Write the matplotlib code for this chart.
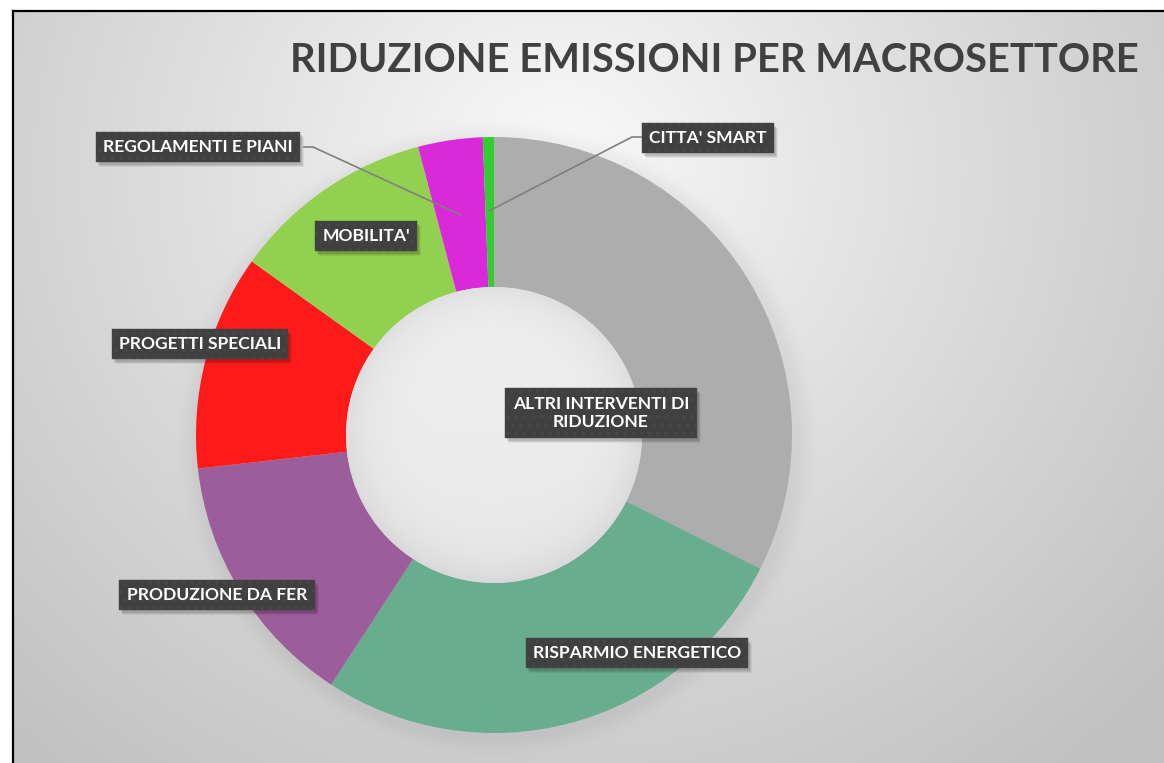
import numpy as np
import matplotlib
matplotlib.use("Agg")
import matplotlib.pyplot as plt
from matplotlib.patches import Rectangle, Circle

# ---- data ----
categories = ["ALTRI INTERVENTI DI\nRIDUZIONE", "RISPARMIO ENERGETICO", "PRODUZIONE DA FER",
              "PROGETTI SPECIALI", "MOBILITA'", "REGOLAMENTI E PIANI", "CITTA' SMART"]
values = [32.4, 26.8, 14.0, 11.7, 11.0, 3.5, 0.6]
colors = ["#ADADAD", "#69AD8F", "#9C5D9B", "#FF1A1A", "#92D050", "#D929D9", "#33CC33"]
title = "RIDUZIONE EMISSIONI PER MACROSETTORE"

W, H = 1164, 763
fig = plt.figure(figsize=(W / 100, H / 100), dpi=100)
fig.patch.set_facecolor("white")
ax = fig.add_axes([0, 0, 1, 1])

def py(y):  # pixel-from-top to data y
    return H - y

# ---- donut ----
center = (494, py(435))
R = 298
ring = 150
wedges, _ = ax.pie(values, colors=colors, startangle=90, counterclock=False,
                   center=center, radius=R, frame=True,
                   wedgeprops=dict(width=ring, linewidth=0, zorder=3))
ax.set_xlim(0, W)
ax.set_ylim(0, H)
ax.set_aspect("auto")
ax.axis("off")

# ---- background radial gradient ----
x0, x1 = 13, W
ytop, ybot = 11, H
gx = np.linspace(x0, x1, 500)
gy = np.linspace(ytop, ybot, 350)
X, Y = np.meshgrid(gx, gy)
cx, cy = 560, 170
d = np.sqrt((X - cx) ** 2 + ((Y - cy) / 0.95) ** 2) / 800.0
d = np.clip(d, 0, 1)
c = 0.985 - (0.985 - 0.76) * d ** 0.9
# soft outer shadow of donut
rr = np.sqrt((X - 497) ** 2 + (Y - 439) ** 2)
sh = np.exp(-((rr - R) / 10.0) ** 2 * 0.5) * 0.05
sh = np.where(rr > R, sh, 0.05)
c = c - sh
img = np.dstack([c, c, c])
ax.imshow(img, extent=[x0, x1, py(ybot), py(ytop)], origin="upper", aspect="auto", zorder=0)
ax.plot([x0, x0], [py(ybot), py(ytop)], color="black", lw=1.6, zorder=1)
ax.plot([x0, x1], [py(ytop), py(ytop)], color="black", lw=1.6, zorder=1)

# ---- hole with inner shading ----
r_in = R - ring
hx = np.linspace(center[0] - r_in, center[0] + r_in, 300)
hy = np.linspace(center[1] - r_in, center[1] + r_in, 300)
HX, HY = np.meshgrid(hx, hy)
hr = np.sqrt((HX - center[0]) ** 2 + (HY - center[1]) ** 2) / r_in
hc = 0.925 - 0.06 * np.clip(hr, 0, 1) ** 6 + 0.015 * (HY - center[1]) / r_in
himg = np.dstack([hc, hc, hc])
hole_clip = Circle(center, r_in, transform=ax.transData)
im = ax.imshow(himg, extent=[hx[0], hx[-1], hy[0], hy[-1]], origin="lower",
               aspect="auto", zorder=4)
im.set_clip_path(hole_clip)
ax.set_xlim(0, W)
ax.set_ylim(0, H)

# ---- title ----
ax.text(1139, py(60), title, ha="right", va="center", fontsize=28.7, fontweight="bold",
        family="Lato", color="#404040", zorder=5)

# ---- labels ----
label_pos = [(601, 413), (637, 653), (217, 595), (200, 344), (366, 236), (198, 147), (708, 138)]
texts = []
for txt, (lx, lyy) in zip(categories, label_pos):
    t = ax.text(lx, py(lyy), txt, ha="center", va="center", fontsize=12.6, fontweight="bold",
                family="Lato", color="white", linespacing=1.2, zorder=7,
                bbox=dict(boxstyle="square,pad=0.42", fc="#404040", ec="#484848", lw=0.3,
                          hatch=".."))
    texts.append(t)

fig.canvas.draw()
inv = ax.transData.inverted()
for t in texts:
    bb = t.get_bbox_patch().get_window_extent()
    (ax0, ay0), (ax1_, ay1) = inv.transform([[bb.x0, bb.y0], [bb.x1, bb.y1]])
    for k, a in enumerate([0.10, 0.08, 0.06]):
        ax.add_patch(Rectangle((ax0 + 2 + k, ay0 - 3 - k), ax1_ - ax0, ay1 - ay0,
                               fc="black", ec="none", alpha=a, zorder=6))

# ---- leader lines ----
ax.plot([304, 313, 461], [py(147), py(147), py(215)], color="#7F7F7F", lw=1.2, zorder=5)
ax.plot([641, 632, 489], [py(137), py(137), py(211)], color="#7F7F7F", lw=1.2, zorder=5)

fig.savefig("out.png", dpi=100)
